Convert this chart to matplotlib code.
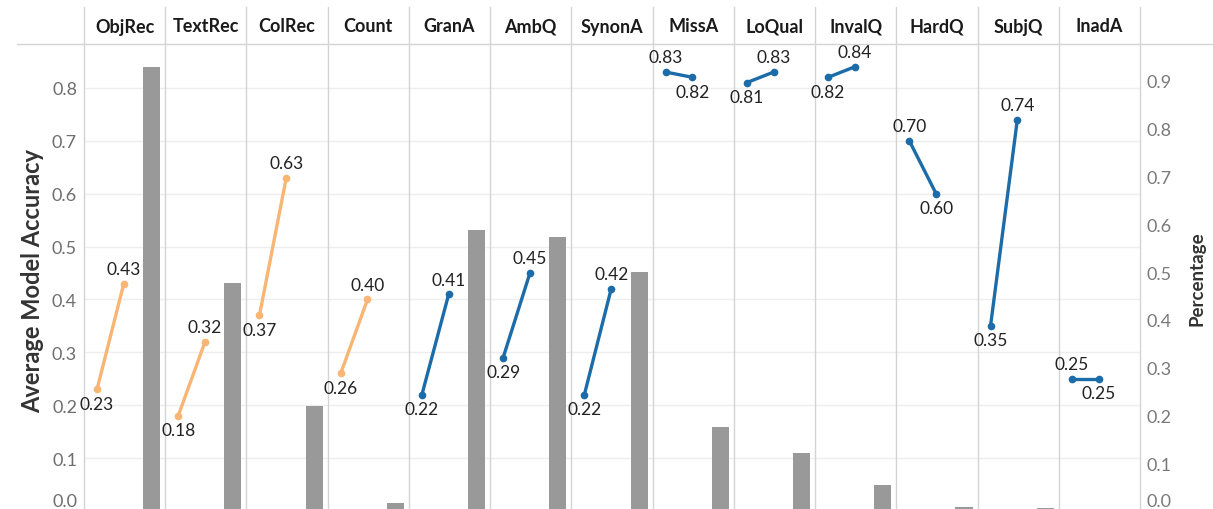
import matplotlib
matplotlib.use("Agg")
import matplotlib.pyplot as plt
from matplotlib.lines import Line2D
import matplotlib.transforms as mtransforms

# --- data ---
categories = ["ObjRec", "TextRec", "ColRec", "Count", "GranA", "AmbQ", "SynonA",
              "MissA", "LoQual", "InvalQ", "HardQ", "SubjQ", "InadA"]
acc_before = [0.23, 0.18, 0.37, 0.26, 0.22, 0.29, 0.22, 0.83, 0.81, 0.82, 0.70, 0.35, 0.25]
acc_after = [0.43, 0.32, 0.63, 0.40, 0.41, 0.45, 0.42, 0.82, 0.83, 0.84, 0.60, 0.74, 0.25]
percentage = [0.929, 0.477, 0.220, 0.017, 0.588, 0.573, 0.500, 0.176, 0.121, 0.054, 0.008, 0.006, 0.0]
group = ["orange"] * 4 + ["blue"] * 9

COLORS = {"orange": "#f8b573", "blue": "#1b6ca8"}
BAR_COLOR = "#999999"
FONT = "Lato"

plt.rcParams["font.family"] = [FONT, "DejaVu Sans"]

W, H = 1213, 510
fig = plt.figure(figsize=(W / 100, H / 100), dpi=100)

# plot area in pixels: x 84..1140, y 45..512 (zero sits just below the image)
rect = [84 / W, -2 / H, (1140 - 84) / W, (512 - 45) / H]
ax = fig.add_axes(rect)           # accuracy scale, grid + left ticks
ax2 = ax.twinx()                  # percentage scale, bars
ax3 = fig.add_axes(rect, sharex=ax, sharey=ax)  # lines on top
ax3.patch.set_visible(False)
ax3.axis("off")

n = len(categories)
ax.set_xlim(0, n)
ax.set_ylim(0, 0.883)
ax2.set_ylim(0, 0.977)

for a in (ax, ax2):
    for s in a.spines.values():
        s.set_visible(False)

ax.set_xticks([])
ax.set_yticks([i / 10 for i in range(9)])
ax.set_yticklabels([f"{i / 10:.1f}" for i in range(9)])
ax.tick_params(axis="y", length=0, pad=5, labelsize=13, labelcolor="#6e6e6e")
ax.grid(axis="y", color="#eeeeee", linewidth=1)
ax.set_axisbelow(True)

ax2.set_yticks([i / 10 for i in range(10)])
ax2.set_yticklabels([f"{i / 10:.1f}" for i in range(10)])
ax2.tick_params(axis="y", length=0, pad=5, labelsize=13, labelcolor="#7a7a7a")

# Tableau lifts the 0.0 labels so they stay inside the pane
shift = mtransforms.ScaledTranslation(0, 2 / 100, fig.dpi_scale_trans)
for a in (ax, ax2):
    lab = a.get_yticklabels()[0]
    lab.set_va("bottom")
    lab.set_transform(lab.get_transform() + shift)

# bars
bar_x = [i + 0.833 for i in range(n)]
ax2.bar(bar_x, percentage, width=0.21, color=BAR_COLOR, zorder=2)

# slope lines + labels
for i in range(n):
    x0, x1 = i + 0.16, i + 0.49
    v0, v1 = acc_before[i], acc_after[i]
    c = COLORS[group[i]]
    ax3.plot([x0, x1], [v0, v1], color=c, linewidth=2.4, marker="o", markersize=4.5,
             solid_capstyle="round")
    first_up = v0 >= v1
    for x, v, up in ((x0, v0, first_up), (x1, v1, not first_up)):
        ax3.annotate(f"{v:.2f}", (x, v), xytext=(0, 10.5 if up else -10.5),
                     textcoords="offset points", ha="center", va="center",
                     fontsize=12.5, color="#222222")

# column separators (run up through the header)
top_frac = (512 - 8) / (512 - 45)
for i in range(n + 1):
    ax.axvline(i, ymin=0, ymax=top_frac, color="#d4d4d4", linewidth=1, clip_on=False)

# header row
fig.add_artist(Line2D([17 / W, 1], [1 - 45 / H] * 2, color="#d4d4d4", linewidth=1))
hdr = mtransforms.blended_transform_factory(ax.transData, fig.transFigure)
for i, cat in enumerate(categories):
    ax.text(i + 0.5, 1 - 27 / H, cat, transform=hdr, ha="center", va="center",
            fontsize=13, fontweight="bold", color="#1a1a1a")

# axis titles
fig.text(33 / W, 1 - 281 / H, "Average Model Accuracy", rotation=90, ha="center",
         va="center", fontsize=17, fontweight="bold", color="#333333")
fig.text(1197 / W, 1 - 279 / H, "Percentage", rotation=90, ha="center",
         va="center", fontsize=13.5, fontweight="bold", color="#333333")

fig.savefig("out.png", dpi=100)
